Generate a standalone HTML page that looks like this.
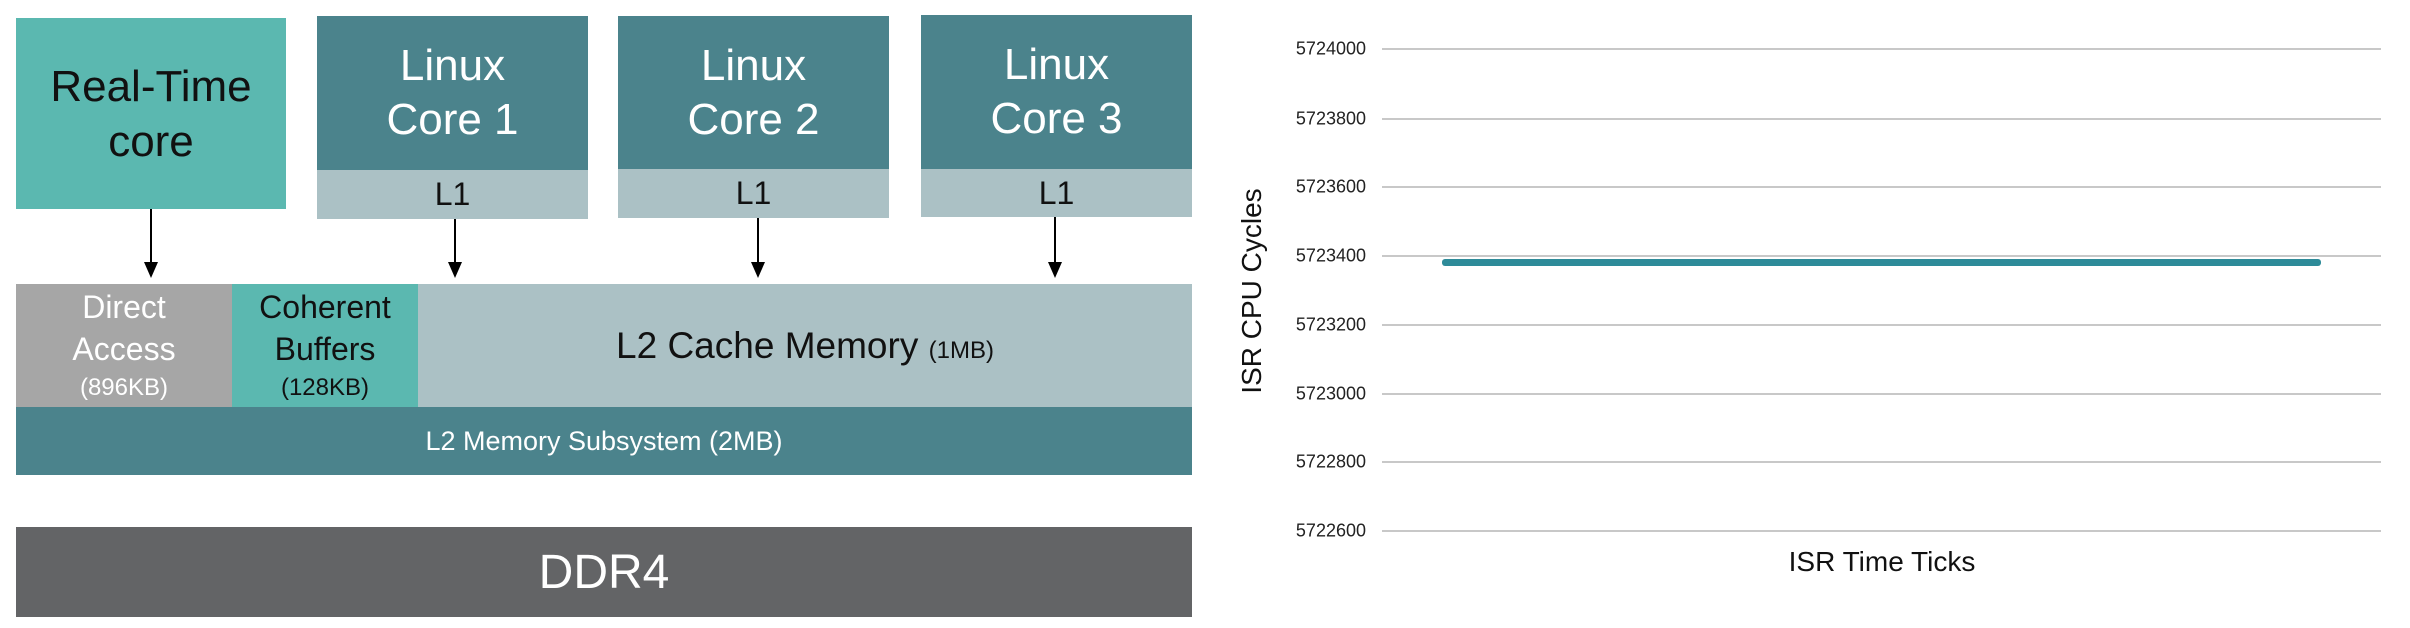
<!DOCTYPE html>
<html><head><style>
body{margin:0;width:2410px;height:628px;background:#fff;position:relative;overflow:hidden;font-family:"Liberation Sans",sans-serif}
div{position:absolute;box-sizing:border-box}
.c{display:flex;align-items:center;justify-content:center;text-align:center;flex-direction:column}
.lbl{position:absolute;right:1044px;font-size:18px;color:#222;transform:translateY(-50%)}
.g{position:absolute;left:1382px;width:999px;height:2px;background:#c8c8c8}
.ar{position:absolute;width:2px;background:#000}
.ah{position:absolute;width:0;height:0;border-left:7px solid transparent;border-right:7px solid transparent;border-top:16px solid #000}
</style></head><body>
<div class="c" style="left:16px;top:18px;width:270px;height:191px;background:#5bb8b0;color:#111;font-size:44px;line-height:55px">Real-Time<br>core</div>

<div class="c" style="left:317px;top:16px;width:271px;height:154px;background:#4b838c;color:#fff;font-size:44px;line-height:54px">Linux<br>Core 1</div>
<div class="c" style="left:317px;top:170px;width:271px;height:49px;background:#abc1c5;color:#111;font-size:32px">L1</div>
<div class="c" style="left:618px;top:16px;width:271px;height:153px;background:#4b838c;color:#fff;font-size:44px;line-height:54px">Linux<br>Core 2</div>
<div class="c" style="left:618px;top:169px;width:271px;height:49px;background:#abc1c5;color:#111;font-size:32px">L1</div>
<div class="c" style="left:921px;top:15px;width:271px;height:154px;background:#4b838c;color:#fff;font-size:44px;line-height:54px">Linux<br>Core 3</div>
<div class="c" style="left:921px;top:169px;width:271px;height:48px;background:#abc1c5;color:#111;font-size:32px">L1</div>

<div class="ar" style="left:150px;top:209px;height:56px"></div><div class="ah" style="left:144px;top:262px"></div>
<div class="ar" style="left:454px;top:219px;height:46px"></div><div class="ah" style="left:448px;top:262px"></div>
<div class="ar" style="left:757px;top:218px;height:47px"></div><div class="ah" style="left:751px;top:262px"></div>
<div class="ar" style="left:1054px;top:217px;height:48px"></div><div class="ah" style="left:1048px;top:262px"></div>

<div class="c" style="left:16px;top:284px;width:216px;height:123px;background:#a6a6a6;color:#fff;font-size:32px;line-height:42px">Direct<br>Access<span style="font-size:24px;line-height:36px">(896KB)</span></div>
<div class="c" style="left:232px;top:284px;width:186px;height:123px;background:#5bb8b0;color:#111;font-size:32px;line-height:42px">Coherent<br>Buffers<span style="font-size:24px;line-height:36px">(128KB)</span></div>
<div class="c" style="left:418px;top:284px;width:774px;height:123px;background:#abc1c5;color:#111;font-size:37px;display:block;line-height:123px">L2 Cache Memory <span style="font-size:24px">(1MB)</span></div>
<div class="c" style="left:16px;top:407px;width:1176px;height:68px;background:#4b838c;color:#fff;font-size:27px">L2 Memory Subsystem (2MB)</div>
<div class="c" style="left:16px;top:527px;width:1176px;height:90px;background:#636466;color:#fff;font-size:48px">DDR4</div>

<div class="g" style="top:48px"></div><div class="lbl" style="top:49px">5724000</div>
<div class="g" style="top:118px"></div><div class="lbl" style="top:119px">5723800</div>
<div class="g" style="top:186px"></div><div class="lbl" style="top:187px">5723600</div>
<div class="g" style="top:255px"></div><div class="lbl" style="top:256px">5723400</div>
<div class="g" style="top:324px"></div><div class="lbl" style="top:325px">5723200</div>
<div class="g" style="top:393px"></div><div class="lbl" style="top:394px">5723000</div>
<div class="g" style="top:461px"></div><div class="lbl" style="top:462px">5722800</div>
<div class="g" style="top:530px"></div><div class="lbl" style="top:531px">5722600</div>
<div style="left:1442px;top:259px;width:879px;height:7px;background:#2e8b99;border-radius:3px"></div>
<div style="left:1252px;top:291px;transform:translate(-50%,-50%) rotate(-90deg);font-size:28px;color:#111;white-space:nowrap">ISR CPU Cycles</div>
<div style="left:1882px;top:562px;transform:translate(-50%,-50%);font-size:28px;color:#111;white-space:nowrap">ISR Time Ticks</div>
</body></html>
